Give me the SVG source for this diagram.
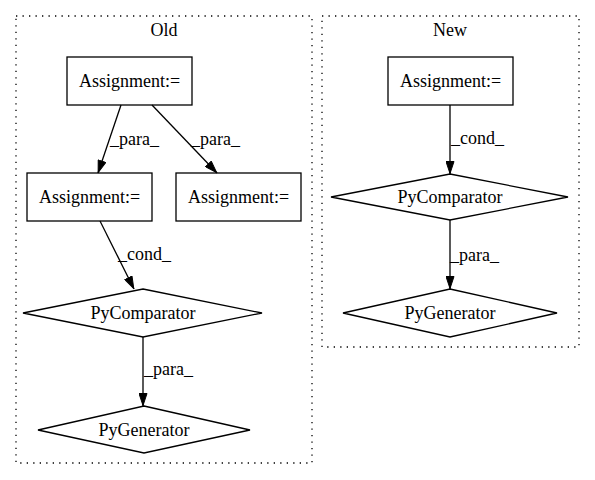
<svg xmlns="http://www.w3.org/2000/svg" width="595" height="480" viewBox="0 0 595 480">
<style>
.n{fill:none;stroke:#000;stroke-width:1.3}
.c{fill:none;stroke:#000;stroke-width:1.3;stroke-dasharray:1.3,5.2}
.e{fill:none;stroke:#000;stroke-width:1.3;marker-end:url(#ah)}
</style>
<defs>
<marker id="ah" markerWidth="13" markerHeight="9" refX="13" refY="4.5" orient="auto" markerUnits="userSpaceOnUse">
<polygon points="0.5,0.5 12.5,4.5 0.5,8.5" fill="#000" stroke="#000" stroke-width="1"/>
</marker>
</defs>
<rect width="595" height="480" fill="#fff"/>
<g font-family="Liberation Serif" font-size="18" fill="#000">
<g id="cluster_old">
<rect class="c" x="16" y="16" width="296" height="447"/>
<text x="164" y="36" text-anchor="middle">Old</text>
</g>
<g id="cluster_new">
<rect class="c" x="322" y="16" width="257" height="331"/>
<text x="450" y="36" text-anchor="middle">New</text>
</g>
<g id="edges">
<path class="e" d="M121,105 L98,173"/>
<text x="110" y="145">_para_</text>
<path class="e" d="M152,105 L217,173"/>
<text x="191" y="145">_para_</text>
<path class="e" d="M100,221 L134,289"/>
<text x="118" y="260">_cond_</text>
<path class="e" d="M143,337 L143,406"/>
<text x="144" y="375">_para_</text>
<path class="e" d="M450,105 L450,174"/>
<text x="451" y="144">_cond_</text>
<path class="e" d="M450,220 L450,289"/>
<text x="450" y="261">_para_</text>
</g>
<g id="old_assign_top">
<rect class="n" x="67" y="57" width="125" height="48"/>
<text x="129.5" y="87" text-anchor="middle">Assignment:=</text>
</g>
<g id="old_assign_left">
<rect class="n" x="27" y="173" width="125" height="48"/>
<text x="89.5" y="203" text-anchor="middle">Assignment:=</text>
</g>
<g id="old_assign_right">
<rect class="n" x="176" y="173" width="125" height="48"/>
<text x="238.5" y="203" text-anchor="middle">Assignment:=</text>
</g>
<g id="old_pycomparator">
<polygon class="n" points="143,289 262,313 143,337 23,313"/>
<text x="143" y="319" text-anchor="middle">PyComparator</text>
</g>
<g id="old_pygenerator">
<polygon class="n" points="144,406 250,430 144,453 38,430"/>
<text x="144" y="436" text-anchor="middle">PyGenerator</text>
</g>
<g id="new_assign">
<rect class="n" x="388" y="57" width="125" height="48"/>
<text x="450.5" y="87" text-anchor="middle">Assignment:=</text>
</g>
<g id="new_pycomparator">
<polygon class="n" points="450,174 568,197 450,220 331,197"/>
<text x="450" y="203" text-anchor="middle">PyComparator</text>
</g>
<g id="new_pygenerator">
<polygon class="n" points="450,289 557,313 450,337 343,313"/>
<text x="450" y="319" text-anchor="middle">PyGenerator</text>
</g>
</g>
</svg>
